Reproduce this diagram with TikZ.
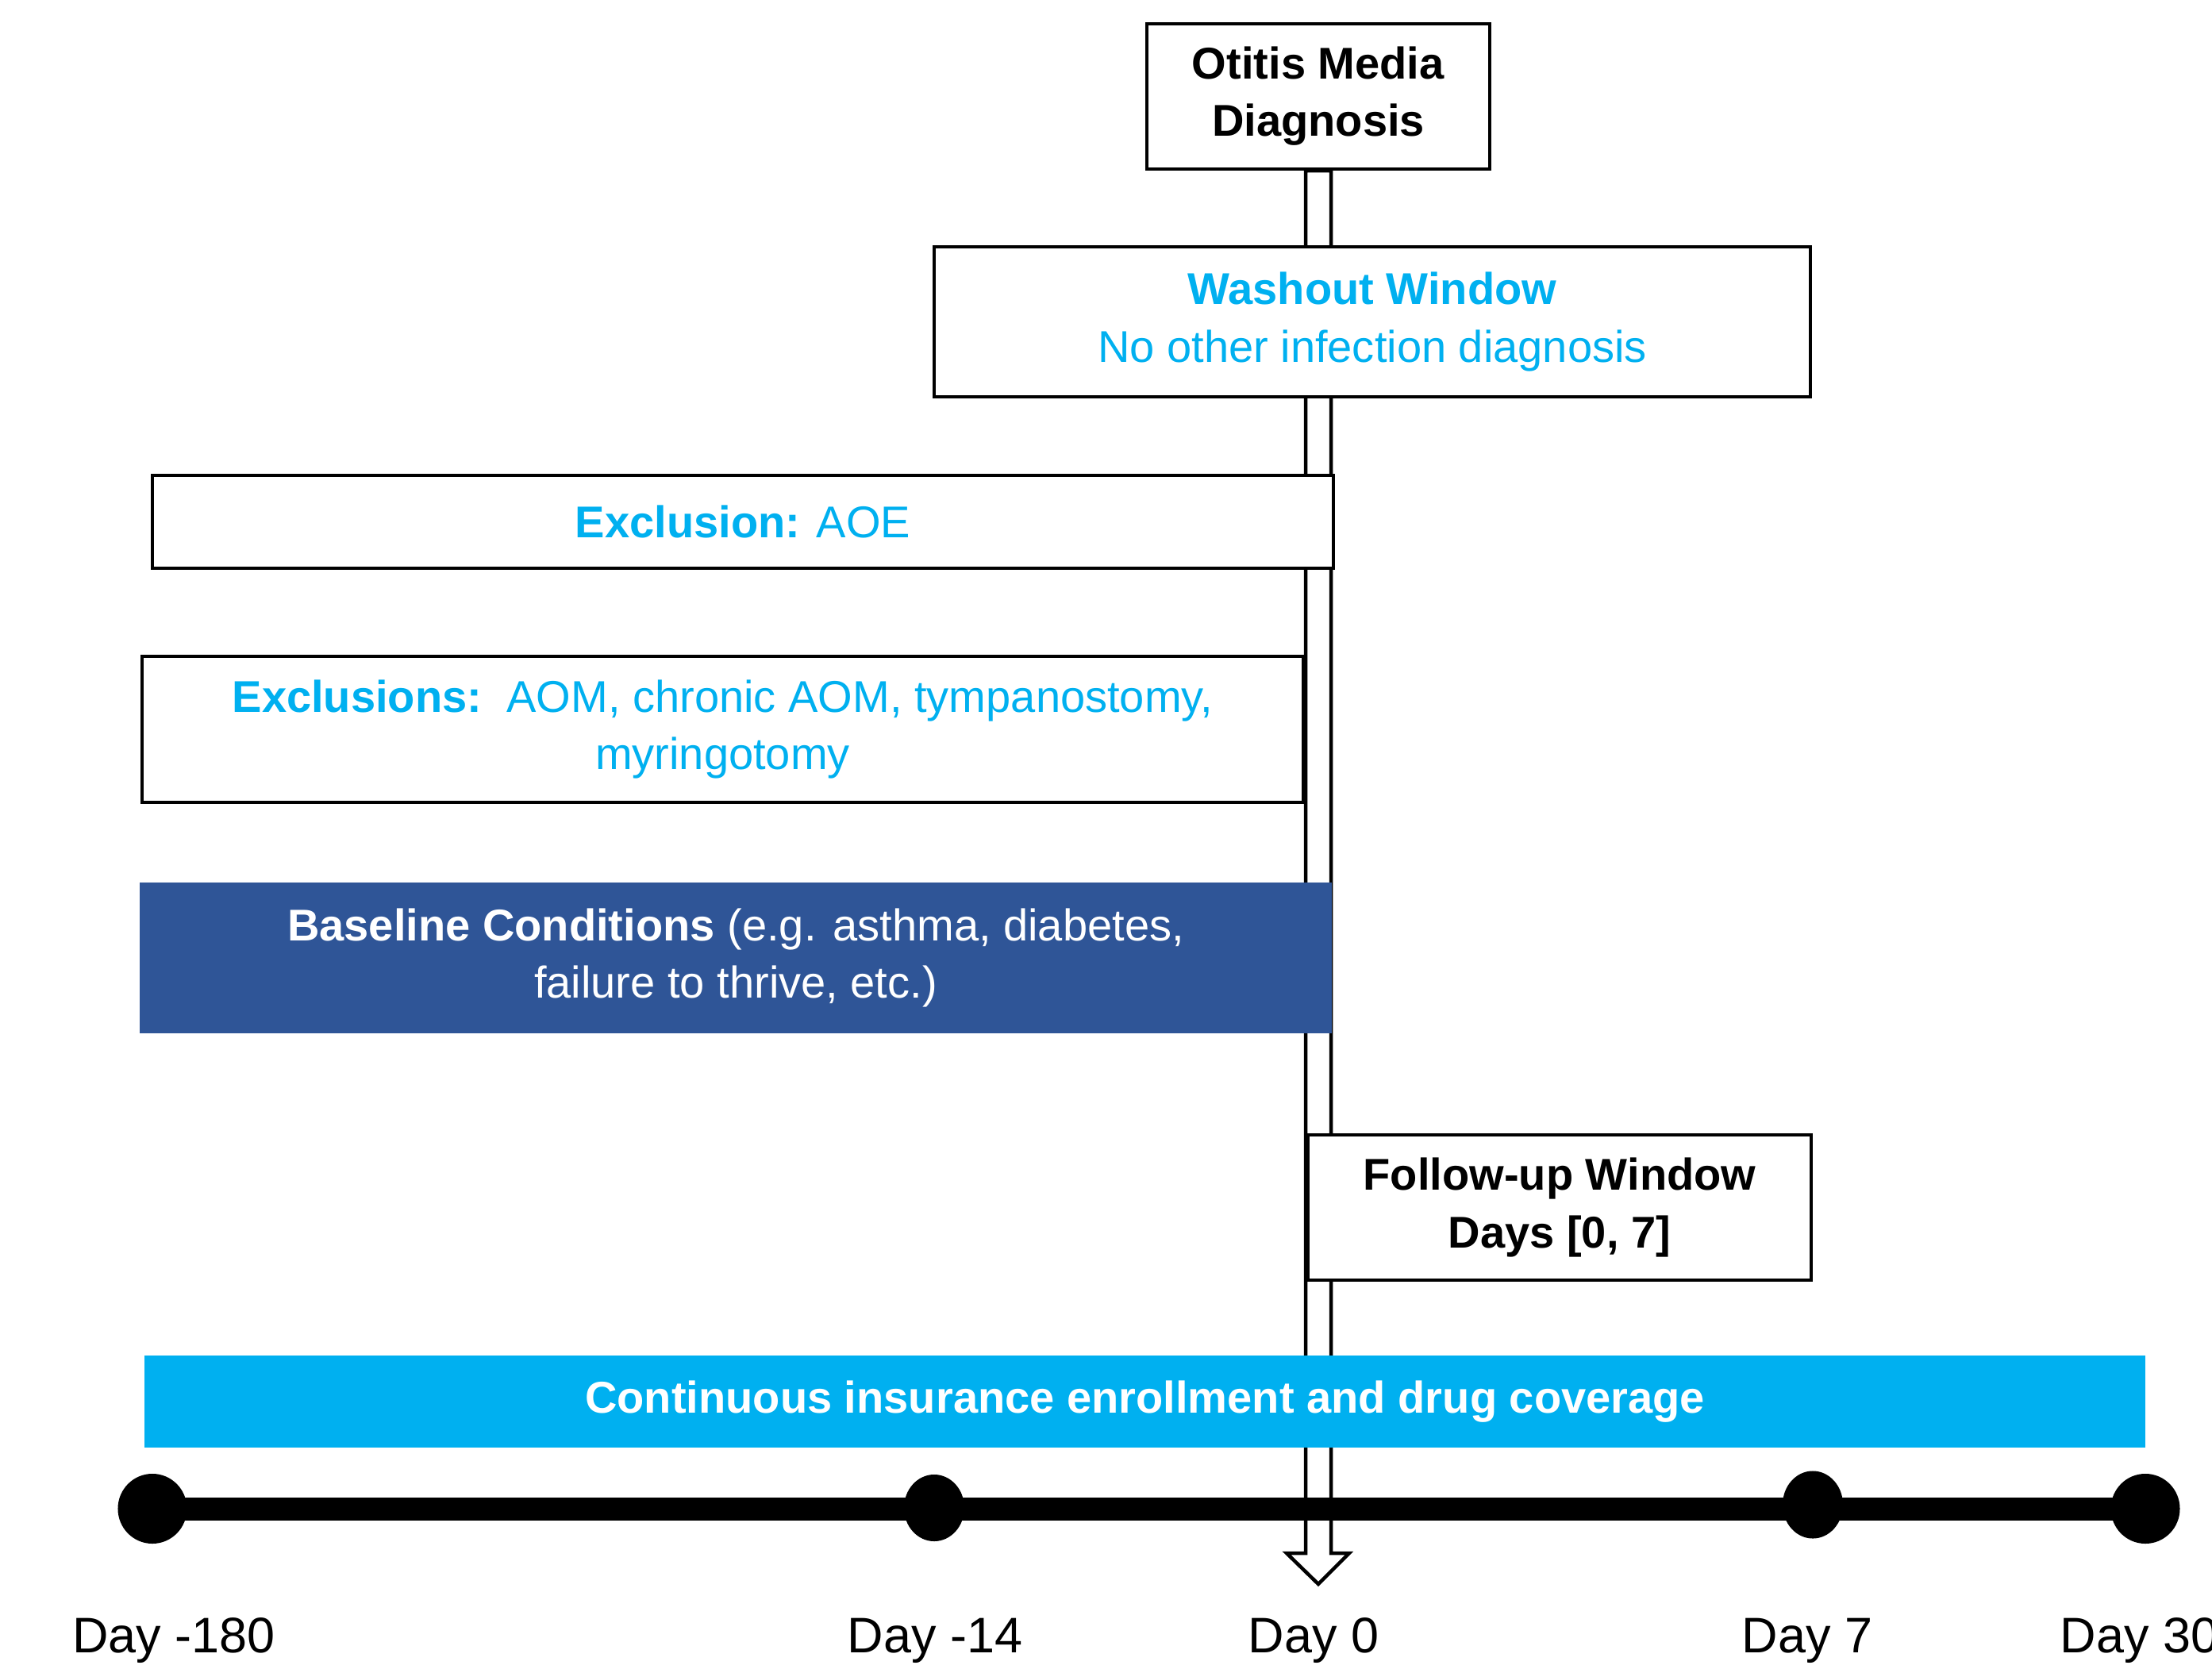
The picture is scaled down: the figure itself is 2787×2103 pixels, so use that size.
\documentclass[tikz,border=0pt]{standalone}
\usepackage{fontspec}
\setmainfont{Liberation Sans}
\usetikzlibrary{calc,shapes.geometric,backgrounds}
\definecolor{cyanC}{HTML}{00B0F0}
\definecolor{baseC}{HTML}{2F5597}
\newcommand\bxfont{\fontsize{15.94pt}{20.5pt}\selectfont}
\newcommand\lblfont{\fontsize{17.9pt}{21pt}\selectfont}
\begin{document}
\begin{tikzpicture}[x=0.01cm,y=-0.01cm,
  box/.style={rectangle,draw=black,line width=0.04cm,fill=white,inner sep=0pt,align=center,font=\bxfont},
  fillbox/.style={rectangle,draw=none,inner sep=0pt,align=center,font=\bxfont,text=white},
  dotnode/.style={ellipse,fill=black,draw=none,inner sep=0pt},
  daylabel/.style={font=\lblfont,inner sep=0pt,anchor=base},
  arrowline/.style={draw=black,line width=0.045cm,fill=white,line join=miter}]
\useasboundingbox (0,0) rectangle (2787,2103);

% boxes
\node[box,minimum width=4.32cm,minimum height=1.83cm] (om) at (1661,121.5)
  {\textbf{Otitis Media}\\\textbf{Diagnosis}};
\node[box,text=cyanC,minimum width=11.04cm,minimum height=1.89cm] (wash) at (1729,405.5)
  {\textbf{Washout Window}\\No other infection diagnosis};
\node[box,text=cyanC,minimum width=14.88cm,minimum height=1.17cm] (aoe) at (936,657.5)
  {\textbf{Exclusion:} AOE};
\node[box,text=cyanC,minimum width=14.63cm,minimum height=1.84cm] (excl) at (910.5,919)
  {\textbf{Exclusions:}\ \ AOM, chronic AOM, tympanostomy,\\myringotomy};
\node[fillbox,fill=baseC,minimum width=15.02cm,minimum height=1.90cm] (base) at (927,1207)
  {\textbf{Baseline Conditions} (e.g. asthma, diabetes,\\failure to thrive, etc.)};
\node[box,minimum width=6.34cm,minimum height=1.83cm] (fu) at (1965,1521.5)
  {\textbf{Follow-up Window}\\\textbf{Days [0, 7]}};
\node[fillbox,fill=cyanC,minimum width=25.19cm,minimum height=1.16cm] (enr) at (1442.5,1766)
  {\textbf{Continuous insurance enrollment and drug coverage}};

% timeline
\node[dotnode,minimum width=0.87cm,minimum height=0.88cm] (d1) at (192,1901) {};
\node[dotnode,minimum width=0.76cm,minimum height=0.84cm] (d2) at (1177,1900) {};
\node[dotnode,minimum width=0.76cm,minimum height=0.85cm] (d3) at (2284,1896) {};
\node[dotnode,minimum width=0.87cm,minimum height=0.88cm] (d4) at (2703,1901) {};
\draw[line width=0.29cm] (d1.center) -- (d4.center);

\coordinate (tip) at (1661,1996);

% labels
\node[daylabel] (l1) at (219,2082) {Day -180};
\node[daylabel] (l2) at (1178,2082) {Day -14};
\node[daylabel] (l3) at (1655,2082) {Day 0};
\node[daylabel] (l4) at (2277,2082) {Day 7};
\node[daylabel,anchor=base west] (l5) at (2595,2082) {Day 30};

% hollow arrow from diagnosis to day 0, behind the boxes
\begin{pgfonlayer}{background}
\fill[white] (0,0) rectangle (2787,2103);
\draw[arrowline] ($(om.south)+(-16,0)$) -- ($(tip)+(-16,-39)$) -- ($(tip)+(-40,-39)$)
  -- (tip) -- ($(tip)+(39,-39)$) -- ($(tip)+(16,-39)$) -- ($(om.south)+(16,0)$) -- cycle;
\end{pgfonlayer}
\end{tikzpicture}
\end{document}
